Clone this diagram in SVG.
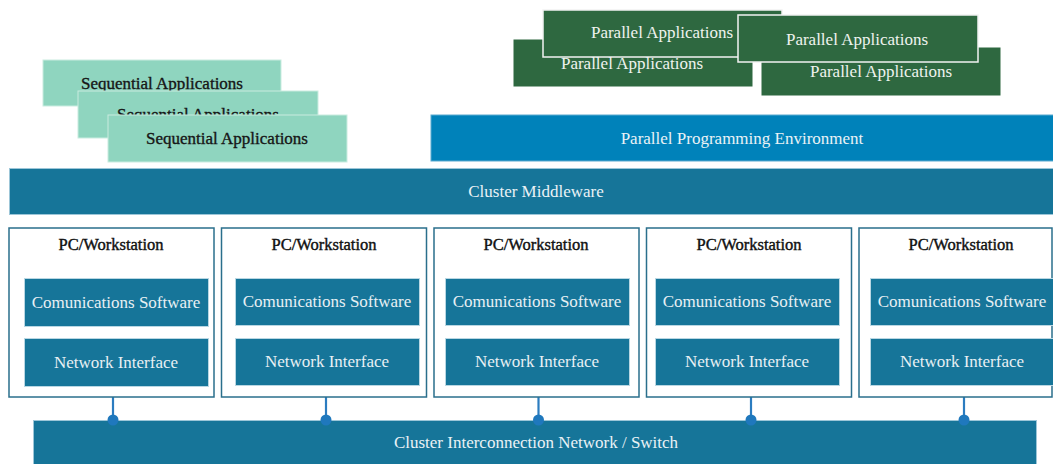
<svg xmlns="http://www.w3.org/2000/svg" width="1053" height="464" viewBox="0 0 1053 464">
<style>
text{font-family:'Liberation Serif','DejaVu Serif',serif;text-anchor:middle;dominant-baseline:central;font-size:17px}
.seq{fill:#8fd5bf;stroke:#c9ece0;stroke-width:1}
.seqt{fill:#161616;stroke:#161616;stroke-width:0.35}
.par{fill:#2e6840;stroke:#2e6840;stroke-width:1}
.parf{fill:#2e6840;stroke:#f2f2f2;stroke-width:1.5}
.part{fill:#eef3ee}
.band{fill:#167599;stroke:#9cc6d8;stroke-width:1}
.bandt{fill:#eaf2f6}
.pc{fill:#fff;stroke:#2a6f8c;stroke-width:1.5}
.pct{fill:#111;stroke:#111;stroke-width:0.4;font-size:16.5px}
.in{fill:#167599;stroke:#b9d7e3;stroke-width:1}
.int{fill:#e8f0f4}
.conn{stroke:#2b7cc0;stroke-width:2.2;fill:none}
.dot{fill:#1f78bd}
</style>
<g id="sequential-apps">
<rect class="seq" x="43" y="60" width="238" height="46"/>
<text class="seqt" x="162" y="83">Sequential Applications</text>
<rect class="seq" x="78" y="91" width="240" height="47"/>
<text class="seqt" x="198" y="114">Sequential Applications</text>
<rect class="seq" x="108" y="115" width="239" height="47"/>
<text class="seqt" x="227" y="138">Sequential Applications</text>
</g>
<g id="parallel-apps">
<rect class="par" x="514" y="40" width="238" height="46"/>
<text class="part" x="632" y="63">Parallel Applications</text>
<rect class="parf" x="543" y="10" width="239" height="47"/>
<text class="part" x="662" y="32">Parallel Applications</text>
<rect class="par" x="762" y="48" width="238" height="47"/>
<text class="part" x="881" y="71">Parallel Applications</text>
<rect class="parf" x="738" y="15" width="240" height="47"/>
<text class="part" x="857" y="39">Parallel Applications</text>
</g>
<g id="ppe">
<rect x="431" y="115" width="624" height="46" fill="#0082ba" stroke="#5aaad0" stroke-width="1"/>
<text class="bandt" x="742" y="138">Parallel Programming Environment</text>
</g>
<g id="middleware">
<rect class="band" x="9.5" y="168.5" width="1045" height="46"/>
<text class="bandt" x="536" y="191">Cluster Middleware</text>
</g>
<g id="connectors">
<line class="conn" x1="113" y1="397" x2="113" y2="420"/>
<line class="conn" x1="326" y1="397" x2="326" y2="420"/>
<line class="conn" x1="538.5" y1="397" x2="538.5" y2="420"/>
<line class="conn" x1="751" y1="397" x2="751" y2="420"/>
<line class="conn" x1="964" y1="397" x2="964" y2="420"/>
</g>
<g id="bus">
<rect class="band" x="33.5" y="420.5" width="1003" height="50"/>
<text class="bandt" x="536" y="442">Cluster Interconnection Network / Switch</text>
<circle class="dot" cx="113" cy="420" r="5.5"/>
<circle class="dot" cx="326" cy="420" r="5.5"/>
<circle class="dot" cx="538.5" cy="420" r="5.5"/>
<circle class="dot" cx="751" cy="420" r="5.5"/>
<circle class="dot" cx="964" cy="420" r="5.5"/>
</g>
<g id="pc1">
<rect class="pc" x="9" y="228" width="205" height="169"/>
<text class="pct" x="111" y="244">PC/Workstation</text>
<rect class="in" x="24.5" y="278.5" width="184" height="48"/>
<text class="int" x="116" y="302">Comunications Software</text>
<rect class="in" x="24.5" y="338.5" width="184" height="48"/>
<text class="int" x="116" y="362">Network Interface</text>
</g>
<g id="pc2">
<rect class="pc" x="221.5" y="228" width="205" height="169"/>
<text class="pct" x="324" y="244">PC/Workstation</text>
<rect class="in" x="235.5" y="278.5" width="184" height="47"/>
<text class="int" x="327" y="301">Comunications Software</text>
<rect class="in" x="235.5" y="338.5" width="184" height="47"/>
<text class="int" x="327" y="361">Network Interface</text>
</g>
<g id="pc3">
<rect class="pc" x="434" y="228" width="205" height="169"/>
<text class="pct" x="536" y="244">PC/Workstation</text>
<rect class="in" x="445.5" y="278.5" width="184" height="47"/>
<text class="int" x="537" y="301">Comunications Software</text>
<rect class="in" x="445.5" y="338.5" width="184" height="47"/>
<text class="int" x="537" y="361">Network Interface</text>
</g>
<g id="pc4">
<rect class="pc" x="646.5" y="228" width="205" height="169"/>
<text class="pct" x="749" y="244">PC/Workstation</text>
<rect class="in" x="655.5" y="278.5" width="184" height="47"/>
<text class="int" x="747" y="301">Comunications Software</text>
<rect class="in" x="655.5" y="338.5" width="184" height="47"/>
<text class="int" x="747" y="361">Network Interface</text>
</g>
<g id="pc5">
<rect class="pc" x="859" y="228" width="193" height="169"/>
<text class="pct" x="961" y="244">PC/Workstation</text>
<rect class="in" x="870.5" y="278.5" width="184" height="47"/>
<text class="int" x="962" y="301">Comunications Software</text>
<rect class="in" x="870.5" y="338.5" width="184" height="47"/>
<text class="int" x="962" y="361">Network Interface</text>
</g>
</svg>
